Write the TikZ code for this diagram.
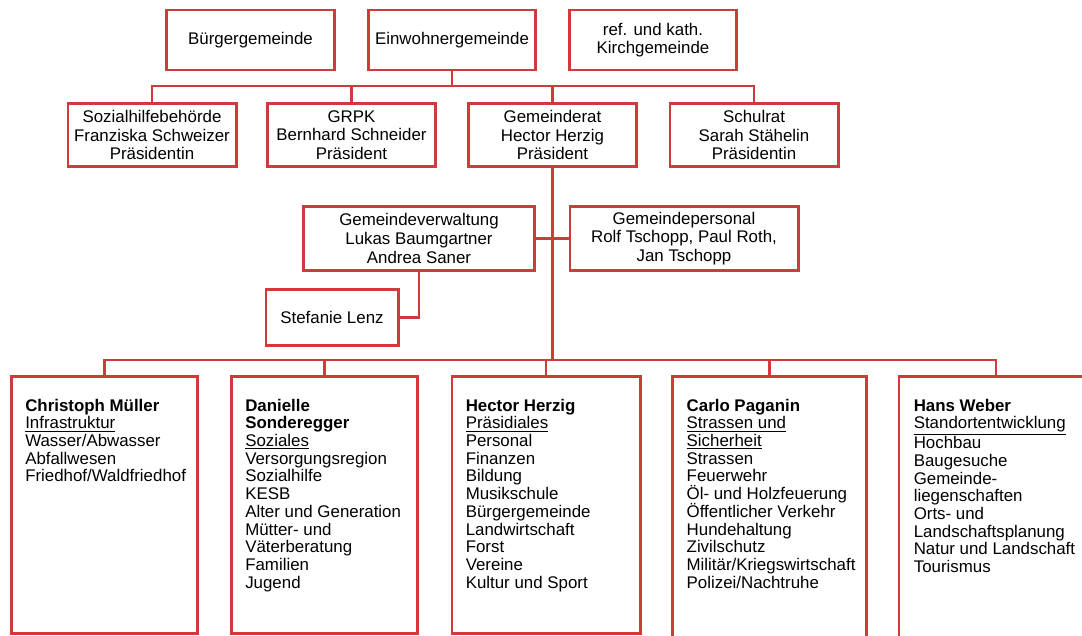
\documentclass[tikz,border=0pt]{standalone}
\usepackage{fontspec}
\setmainfont{Liberation Sans}
\definecolor{orgred}{RGB}{208,58,58}
\tikzset{
  box/.style={draw=orgred, line width=2.1pt, fill=white, align=center, inner sep=0pt,
    font=\fontsize{12}{13.2}\selectfont},
  topbox/.style={box, minimum width=4.18cm, minimum height=1.5cm},
  midbox/.style={box, minimum width=4.2cm, minimum height=1.58cm},
  botbox/.style={box, minimum width=4.65cm, minimum height=6.4cm},
  bottxt/.style={anchor=north west, align=left, inner sep=0pt,
    font=\fontsize{12}{12.6}\selectfont},
  con/.style={draw=orgred, line width=2.1pt}
}
\begin{document}
\begin{tikzpicture}[x=0.025cm,y=-0.025cm]
    \clip (0,0) rectangle (1082,636);
    \fill[white] (0,0) rectangle (1082,636);
    % gemeinden
    \node[topbox] (buerger) at (250.5,40) {Bürgergemeinde};
    \node[topbox] (einw) at (452,40) {Einwohnergemeinde};
    \node[topbox] (kirche) at (653,40) {ref. und kath.\\Kirchgemeinde};
    % behoerden
    \node[midbox] (sozial) at (152,135) {Sozialhilfebehörde\\Franziska Schweizer\\Präsidentin};
    \node[midbox] (grpk) at (351.5,135) {GRPK\\Bernhard Schneider\\Präsident};
    \node[midbox] (grat) at (552.5,135) {Gemeinderat\\Hector Herzig\\Präsident};
    \node[midbox] (schul) at (754,135) {Schulrat\\Sarah Stähelin\\Präsidentin};
    \coordinate (bar1) at (452,86);
    \draw[con] (einw.south) -- (bar1);
    \foreach \n in {sozial,grpk,grat,schul}
    {
    \draw[con] (\n.north) |- (bar1);
    }
    % verwaltung
    \node[box, minimum width=5.75cm, minimum height=1.58cm] (verw) at (419,238.5) {Gemeindeverwaltung\\Lukas Baumgartner\\Andrea Saner};
    \node[box, minimum width=5.7cm, minimum height=1.58cm] (pers) at (684,238.5) {Gemeindepersonal\\Rolf Tschopp, Paul Roth,\\Jan Tschopp};
    \node[box, minimum width=3.3cm, minimum height=1.38cm] (lenz) at (332,317.5) {Stefanie Lenz};
    \coordinate (bar2) at (552.5,360);
    \draw[con] (grat.south) -- (bar2);
    \draw[con] (verw.east) -- (pers.west);
    \draw[con] (verw.south) |- (lenz.east);
    % ressorts
    \node[botbox] (b1) at (104.5,505) {};
    \node[botbox] (b2) at (324.5,505) {};
    \node[botbox, minimum width=4.7cm] (b3) at (546,505) {};
    \node[botbox, minimum width=4.83cm, minimum height=6.6cm] (b4) at (769.5,509) {};
    \node[botbox, minimum width=4.85cm, minimum height=6.6cm] (b5) at (996,509) {};
    \foreach \n in {b1,b2,b3,b4,b5}
    {
    \draw[con] (\n.north) |- (bar2);
    }
    \node[bottxt] (t1) at ([shift={(15,23)}]b1.north west) {\textbf{Christoph Müller}\\\underline{Infrastruktur}\\Wasser/Abwasser\\Abfallwesen\\Friedhof/Waldfriedhof};
    \node[bottxt] (t2) at ([shift={(15,23)}]b2.north west) {\textbf{Danielle}\\\textbf{Sonderegger}\\\underline{Soziales}\\Versorgungsregion\\Sozialhilfe\\KESB\\Alter und Generation\\Mütter- und\\Väterberatung\\Familien\\Jugend};
    \node[bottxt] (t3) at ([shift={(15,23)}]b3.north west) {\textbf{Hector Herzig}\\\underline{Präsidiales}\\Personal\\Finanzen\\Bildung\\Musikschule\\Bürgergemeinde\\Landwirtschaft\\Forst\\Vereine\\Kultur und Sport};
    \node[bottxt] (t4) at ([shift={(15,23)}]b4.north west) {\textbf{Carlo Paganin}\\\underline{Strassen und}\\\underline{Sicherheit}\\Strassen\\Feuerwehr\\Öl- und Holzfeuerung\\Öffentlicher Verkehr\\Hundehaltung\\Zivilschutz\\Militär/Kriegswirtschaft\\Polizei/Nachtruhe};
    \node[bottxt] (t5) at ([shift={(16,23)}]b5.north west) {\textbf{Hans Weber}\\\underline{Standortentwicklung}\\Hochbau\\Baugesuche\\Gemeinde-\\liegenschaften\\Orts- und\\Landschaftsplanung\\Natur und Landschaft\\Tourismus};
\end{tikzpicture}
\end{document}
